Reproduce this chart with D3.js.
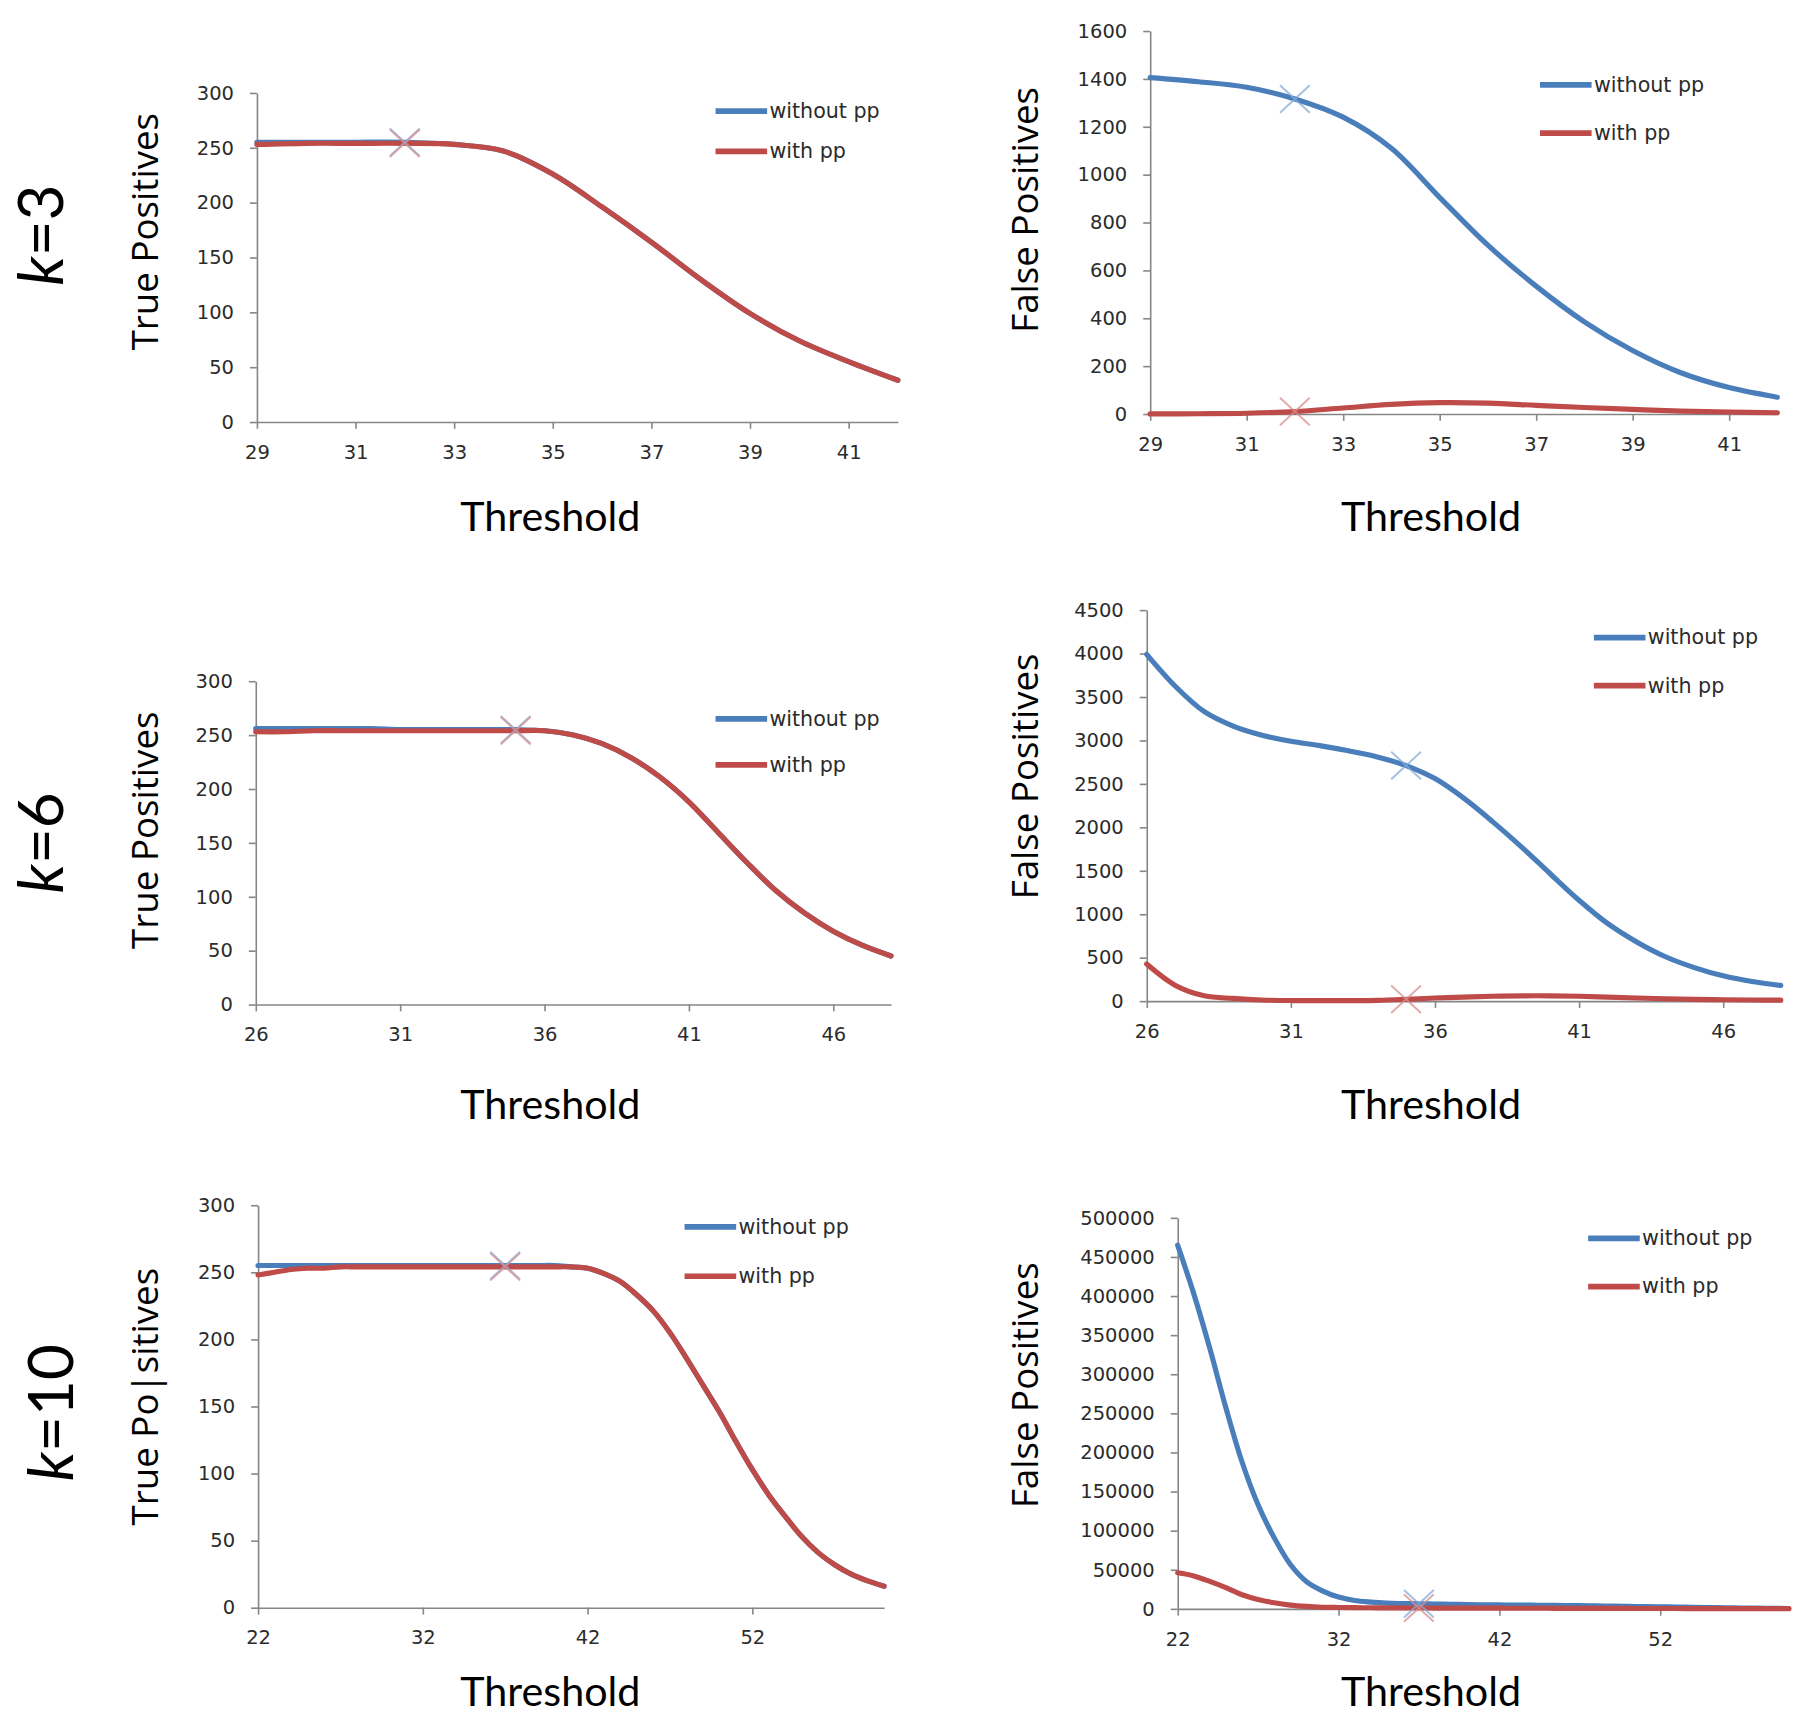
<!DOCTYPE html>
<html>
<head>
<meta charset="utf-8">
<title>TP / FP vs threshold</title>
<style>
  body { margin: 0; background: #fff; }
  .tick text { font-family: "DejaVu Sans", sans-serif; font-size: 17px; fill: #2b2b2b; }
  .axis path, .axis line { stroke: #868686; stroke-width: 1.4; }
  .legend text { font-family: "DejaVu Sans", sans-serif; font-size: 18px; fill: #2b2b2b; }
  .ytitle { font-family: "Open Sans", sans-serif; font-size: 32px; fill: #000; }
  .xtitle { font-family: "Lato", sans-serif; font-size: 36px; fill: #000; }
  .rowlabel { font-family: "Lato", sans-serif; font-size: 54px; fill: #000; }
</style>
<script src="https://d3js.org/d3.v7.min.js"></script>
</head>
<body>
<script>
// ---- data ----
var k3Thresholds = [29,30,31,32,33,34,35,36,37,38,39,40,41,42];
var k3TpWithout = [255,255,255,255,253,247,226,196,164,130,99,74,55,38];
var k3TpWith    = [253,254,254,254,253,247,226,196,164,130,99,74,55,38];
var k3FpWithout = [1405,1388,1365,1316,1240,1110,905,705,534,385,265,172,110,70];
var k3FpWith    = [0,1,3,10,25,40,47,45,36,27,19,12,8,5];

var k6Thresholds = [26,27,28,29,30,31,32,33,34,35,36,37,38,39,40,41,42,43,44,45,46,47,48];
var k6TpWithout = [256,256,256,256,256,255,255,255,255,255,254,250,242,229,211,188,160,132,106,85,68,55,45];
var k6TpWith    = [253,253,254,254,254,254,254,254,254,254,254,250,242,229,211,188,160,132,106,85,68,55,45];
var k6FpWithout = [3990,3620,3330,3165,3060,2990,2940,2880,2810,2710,2560,2335,2065,1775,1465,1160,890,680,510,385,290,225,180];
var k6FpWith    = [427,180,60,30,12,6,5,5,8,20,35,45,55,60,60,55,45,35,27,20,15,12,10];

var k10Thresholds = [22,23,24,25,26,27,28,29,30,31,32,33,34,35,36,37,38,39,40,41,
                     42,43,44,45,46,47,48,49,50,51,52,53,54,55,56,57,58,59,60];
var k10TpWithout = [255,255,255,255,255,255,255,255,255,255,255,255,255,255,255,255,255,255,255,254,
                    253,249,243,233,221,205,186,166,146,124,103,84,68,53,41,32,25,20,16];
var k10TpWith    = [248,250,252,253,253,254,254,254,254,254,254,254,254,254,254,254,254,254,254,254,
                    253,249,243,233,221,205,186,166,146,124,103,84,68,53,41,32,25,20,16];
var k10FpWithout = [465000,403000,333000,257000,188000,133000,91000,57000,35000,23000,15000,10600,8500,7200,6700,6400,6100,5800,5500,5200,
                    5000,4800,4600,4400,4200,4000,3700,3400,3100,2800,2500,2200,1900,1600,1300,1000,800,600,400];
var k10FpWith    = [46000,42000,35000,27000,18000,12000,7700,4700,3000,2000,1700,1500,1300,1200,1100,1000,950,900,850,800,
                    760,720,680,640,600,560,520,480,440,400,360,330,300,270,240,220,200,180,160];

// chosen threshold (the X markers)
var markerThresholds = [32, 35, 37];

// tick labels
var tpTicks = [0,50,100,150,200,250,300];
var fpK3Ticks = [0,200,400,600,800,1000,1200,1400,1600];
var fpK6Ticks = [0,500,1000,1500,2000,2500,3000,3500,4000,4500];
var fpK10Ticks = [0,50000,100000,150000,200000,250000,300000,350000,400000,450000,500000];
var k3XTicks = [29,31,33,35,37,39,41];
var k6XTicks = [26,31,36,41,46];
var k10XTicks = [22,32,42,52];

var seriesNames = ["without pp", "with pp"];
var rowLabels = ["3", "6", "10"];

// ---- layout (picture is laid out on a 1568 wide grid, then scaled) ----
var W = 1568, H = 1502.6;
var blue = "#4a7ebb", red = "#be4b48";

var svg = d3.select("body").append("svg")
    .attr("width", 1798)
    .attr("height", 1723)
    .attr("viewBox", "0 0 " + W + " " + H);

var panels = [
  {row:0, col:0, x0:224, x1:783, y0:81, y1:368, xs:k3Thresholds, a:k3TpWithout, b:k3TpWith, yTicks:tpTicks, xTicks:k3XTicks,
   title:"True Positives", tx:138, ty:202, legX:624, legY:97, legGap:35},
  {row:0, col:1, x0:1003, x1:1550, y0:27, y1:361, xs:k3Thresholds, a:k3FpWithout, b:k3FpWith, yTicks:fpK3Ticks, xTicks:k3XTicks,
   title:"False Positives", tx:905, ty:183, legX:1343, legY:74, legGap:42},
  {row:1, col:0, x0:223, x1:777, y0:594, y1:876, xs:k6Thresholds, a:k6TpWithout, b:k6TpWith, yTicks:tpTicks, xTicks:k6XTicks,
   title:"True Positives", tx:138, ty:724, legX:624, legY:627, legGap:40},
  {row:1, col:1, x0:1000, x1:1553, y0:532, y1:873, xs:k6Thresholds, a:k6FpWithout, b:k6FpWith, yTicks:fpK6Ticks, xTicks:k6XTicks,
   title:"False Positives", tx:905, ty:677, legX:1390, legY:556, legGap:42},
  {row:2, col:0, x0:225, x1:771, y0:1051, y1:1402, xs:k10Thresholds, a:k10TpWithout, b:k10TpWith, yTicks:tpTicks, xTicks:k10XTicks,
   title:"True Po|sitives", tx:138, ty:1218, legX:597, legY:1070, legGap:43},
  {row:2, col:1, x0:1027, x1:1560, y0:1062, y1:1403, xs:k10Thresholds, a:k10FpWithout, b:k10FpWith, yTicks:fpK10Ticks, xTicks:k10XTicks,
   title:"False Positives", tx:905, ty:1208, legX:1385, legY:1080, legGap:42}
];
var thresholdX = [480, 1248];
var thresholdY = [463, 976, 1488];
var rowLabelPos = [[55, 205], [55, 735], [64, 1232]];

function xMark(g, cx, cy, color) {
  var dx = 13, dy = 12;
  g.append("path")
    .attr("d", "M" + (cx - dx) + "," + (cy - dy) + "L" + (cx + dx) + "," + (cy + dy) +
               "M" + (cx - dx) + "," + (cy + dy) + "L" + (cx + dx) + "," + (cy - dy))
    .attr("fill", "none")
    .attr("stroke", color)
    .attr("stroke-width", 1.7)
    .attr("opacity", 0.75);
}

panels.forEach(function(p) {
  var xs = p.xs;
  var x = d3.scaleLinear().domain([xs[0], xs[xs.length - 1]]).range([p.x0, p.x1]);
  var y = d3.scaleLinear().domain([0, p.yTicks[p.yTicks.length - 1]]).range([p.y1, p.y0]);
  var g = svg.append("g");

  g.append("g").attr("class", "axis")
    .attr("transform", "translate(" + p.x0 + ",0)")
    .call(d3.axisLeft(y).tickValues(p.yTicks).tickSize(6).tickSizeOuter(0).tickPadding(14).tickFormat(d3.format("d")))
    .call(function(a) { a.attr("font-family", null).attr("font-size", null); });

  g.append("g").attr("class", "axis")
    .attr("transform", "translate(0," + p.y1 + ")")
    .call(d3.axisBottom(x).tickValues(p.xTicks).tickSize(6).tickSizeOuter(0).tickPadding(14).tickFormat(d3.format("d")))
    .call(function(a) { a.attr("font-family", null).attr("font-size", null); });

  var line = d3.line().curve(d3.curveCatmullRom.alpha(0.5))
    .x(function(d, i) { return x(xs[i]); })
    .y(function(d) { return y(d); });

  g.append("path").datum(p.a).attr("d", line)
    .attr("fill", "none").attr("stroke", blue).attr("stroke-width", 4.5).attr("stroke-linecap", "round");
  g.append("path").datum(p.b).attr("d", line)
    .attr("fill", "none").attr("stroke", red).attr("stroke-width", 4.5).attr("stroke-linecap", "round");

  // chosen-threshold markers
  var mt = markerThresholds[p.row];
  var mi = xs.indexOf(mt);
  xMark(g, x(mt), y(p.a[mi]), "#86a9d8");
  xMark(g, x(mt), y(p.b[mi]), "#d88f8f");

  // legend
  var leg = g.append("g").attr("class", "legend");
  [blue, red].forEach(function(c, i) {
    var ly = p.legY + i * p.legGap;
    leg.append("line").attr("x1", p.legX).attr("x2", p.legX + 45)
      .attr("y1", ly).attr("y2", ly).attr("stroke", c).attr("stroke-width", 5);
    leg.append("text").attr("x", p.legX + 47).attr("y", ly + 6).text(seriesNames[i]);
  });

  // axis titles
  g.append("text").attr("class", "ytitle")
    .attr("transform", "translate(" + p.tx + "," + p.ty + ") rotate(-90)")
    .attr("text-anchor", "middle")
    .text(p.title);
  g.append("text").attr("class", "xtitle")
    .attr("x", thresholdX[p.col])
    .attr("y", thresholdY[p.row])
    .attr("text-anchor", "middle")
    .text("Threshold");
});

rowLabels.forEach(function(k, i) {
  var t = svg.append("text").attr("class", "rowlabel")
    .attr("transform", "translate(" + rowLabelPos[i][0] + "," + rowLabelPos[i][1] + ") rotate(-90)")
    .attr("text-anchor", "middle");
  t.append("tspan").attr("font-style", "italic").text("k");
  t.append("tspan").text("=" + k);
});
</script>
</body>
</html>
